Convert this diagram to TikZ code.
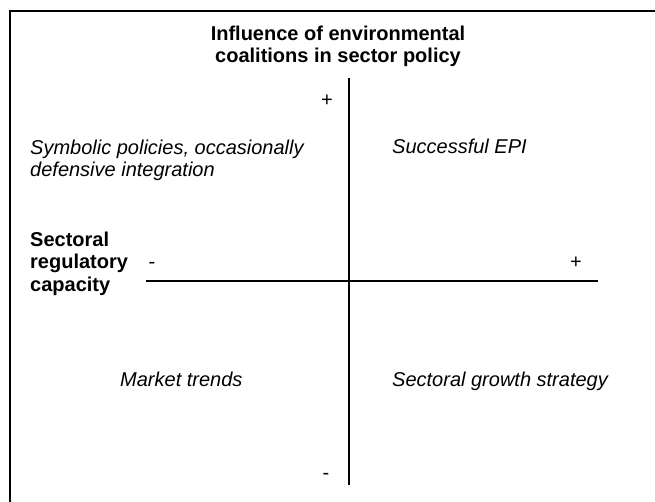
\documentclass[tikz,border=0pt]{standalone}
\usepackage{fontspec}
\setmainfont{Liberation Sans}
\begin{document}
\begin{tikzpicture}[x=1pt,y=-1pt,
  txt/.style={inner sep=0pt,font=\fontsize{20}{22.5}\selectfont},
  lbl/.style={txt,font=\fontsize{20}{22.5}\selectfont\bfseries,align=left},
  quad/.style={txt,font=\fontsize{20}{22.5}\selectfont\itshape,align=left},
  axis/.style={line width=1.3pt,black},
  frame/.style={line width=1.2pt,black}]
\useasboundingbox (0,0) rectangle (655,502);
\fill[white] (0,0) rectangle (655,502);
% outer frame (top and left edges)
\draw[frame] (10,502) -- (10,11) -- (655,11);
% axes
\coordinate (vtop) at (349,78);
\coordinate (vbot) at (349,485);
\coordinate (hleft) at (146,281);
\coordinate (hright) at (598,281);
\draw[axis] (vtop) -- (vbot);
\draw[axis] (hleft) -- (hright);
% titles of the axes (base anchor = baseline of the last line)
\node[lbl,align=center,anchor=base] (title) at (338,63)
  {Influence of environmental\\coalitions in sector policy};
\node[lbl,anchor=base west] (xlabel) at (30,291)
  {Sectoral\\regulatory\\capacity};
% signs
\node[txt,anchor=base] (vplus) at (327,107) {+};
\node[txt,anchor=base] (vminus) at (326,479) {-};
\node[txt,anchor=base] (hminus) at (152,269) {-};
\node[txt,anchor=base] (hplus) at (576,269) {+};
% quadrants
\node[quad,anchor=base west] (q1) at (30,177)
  {Symbolic policies, occasionally\\defensive integration};
\node[quad,anchor=base west] (q2) at (392,154) {Successful EPI};
\node[quad,anchor=base west] (q3) at (120,386) {Market trends};
\node[quad,anchor=base west] (q4) at (392,386) {Sectoral growth strategy};
\end{tikzpicture}
\end{document}
